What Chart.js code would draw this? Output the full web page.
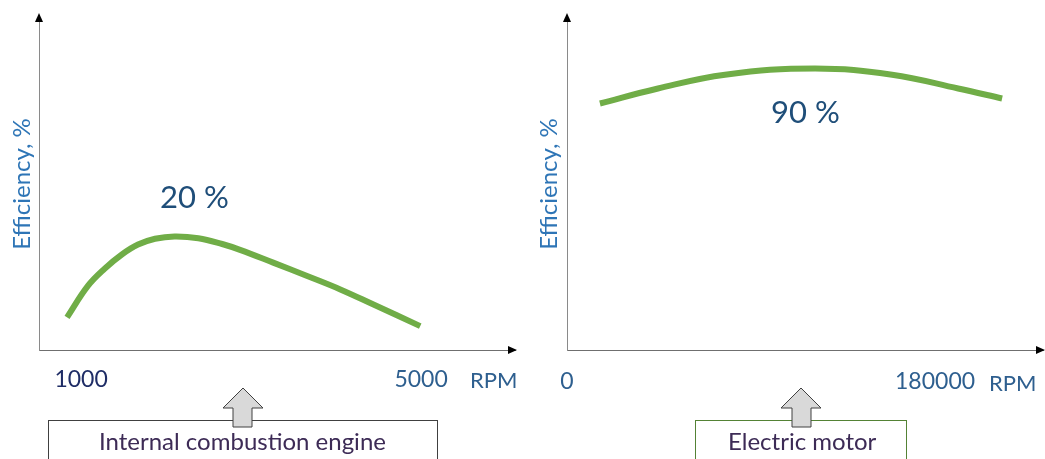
<!DOCTYPE html>
<html>
<head>
<meta charset="utf-8">
<script src="https://cdn.jsdelivr.net/npm/chart.js@4"></script>
<style>
  body { margin: 0; background: #fff; width: 1045px; height: 459px; overflow: hidden; position: relative; font-family: Lato, "Open Sans", sans-serif; }
  .wrap { position: absolute; top: 0; height: 459px; }
  .lbl { position: absolute; white-space: nowrap; line-height: 1; }
  svg { position: absolute; left: 0; top: 0; }
</style>
</head>
<body>
<div class="wrap" style="left:0;width:525px"><canvas id="ice"></canvas></div>
<div class="wrap" style="left:525px;width:520px"><canvas id="ev"></canvas></div>

<svg width="1045" height="459">
  <rect x="48.5" y="420.5" width="389" height="60" fill="#fff" stroke="#404040" stroke-width="1"/>
  <rect x="695.5" y="420.5" width="211" height="60" fill="#fff" stroke="#548235" stroke-width="1"/>
  <polygon points="243,388 263,408 252,408 252,427 233,427 233,408 223,408" fill="#d9d9d9" stroke="#404040" stroke-width="1"/>
  <polygon points="801,388 821,408 811,408 811,427 792,427 792,408 781,408" fill="#d9d9d9" stroke="#404040" stroke-width="1"/>
</svg>

<div class="lbl" style="left:160px;top:181px;font-size:31px;color:#1f4e79">20 %</div>
<div class="lbl" style="left:771px;top:96px;font-size:31px;color:#1f4e79">90 %</div>
<div class="lbl" style="left:470px;top:369px;font-size:22px;color:#2e5f8f">RPM</div>
<div class="lbl" style="left:989px;top:372px;font-size:22px;color:#2e5f8f">RPM</div>
<div class="lbl" style="left:99px;top:429px;font-size:24px;color:#3d2b56">Internal combustion engine</div>
<div class="lbl" style="left:728px;top:429px;font-size:24px;color:#3d2b56">Electric motor</div>

<script>
// internal combustion engine
const iceRpm = [835, 1080, 1280, 1480, 1670, 1870, 2100, 2380, 2660, 2870, 3260, 3660, 4050, 4440, 4990];
const iceEff = [5.6, 11.0, 14.0, 16.4, 18.1, 19.1, 19.5, 19.2, 18.2, 17.2, 15.0, 12.7, 10.4, 7.8, 4.1];
const iceTicks = [1000, 5000];

// electric motor
const evRpm = [16100, 44500, 77300, 121300, 159000, 191300, 212800];
const evEff = [78.7, 83.5, 87.9, 89.9, 87.9, 83.5, 80.3];
const evTicks = [0, 180000];

const axisArrows = {
  id: 'axisArrows',
  afterDraw(chart) {
    const { ctx, chartArea: a } = chart;
    ctx.save();
    ctx.fillStyle = '#000';
    ctx.beginPath();
    ctx.moveTo(a.left, a.top - 5);
    ctx.lineTo(a.left - 4, a.top + 4);
    ctx.lineTo(a.left + 4, a.top + 4);
    ctx.fill();
    ctx.beginPath();
    ctx.moveTo(a.right + 2, a.bottom);
    ctx.lineTo(a.right - 7, a.bottom - 4);
    ctx.lineTo(a.right - 7, a.bottom + 4);
    ctx.fill();
    ctx.restore();
  }
};

function makeChart(id, xs, ys, ticks, xMin, xMax, yMax, yAxisW, titlePad, padRight, tickPad, tickColor) {
  return new Chart(document.getElementById(id), {
    type: 'line',
    data: {
      datasets: [{
        data: xs.map((x, i) => ({ x: x, y: ys[i] })),
        borderColor: '#70ad47',
        borderWidth: 6,
        pointRadius: 0,
        tension: 0.4,
        borderCapStyle: 'butt'
      }]
    },
    options: {
      responsive: true,
      maintainAspectRatio: false,
      animation: false,
      layout: { padding: { top: 18, right: padRight, left: 0, bottom: 0 } },
      plugins: { legend: { display: false }, tooltip: { enabled: false } },
      scales: {
        x: {
          type: 'linear', min: xMin, max: xMax,
          grid: { display: false, drawTicks: false },
          border: { display: true, color: '#6f6f6f', width: 1 },
          afterBuildTicks: s => { s.ticks = ticks.map(v => ({ value: v })); },
          afterFit: s => { s.height = 109; },
          ticks: {
            padding: tickPad, maxRotation: 0, autoSkip: false,
            font: { family: 'Lato', size: 23 },
            color: tickColor,
            callback: v => String(v)
          }
        },
        y: {
          min: 0, max: yMax,
          grid: { display: false, drawTicks: false },
          border: { display: true, color: '#8a8a8a', width: 1 },
          ticks: { display: false },
          afterFit: s => { s.width = yAxisW; },
          title: {
            display: true, text: 'Efficiency, %', color: '#2e75b6',
            font: { family: 'Lato', size: 24 }, padding: { top: titlePad, bottom: 0 }
          }
        }
      }
    },
    plugins: [axisArrows]
  });
}

makeChart('ice', iceRpm, iceEff, iceTicks, 505, 6105, 57, 39, 8, 10, 16,
  c => c.tick && c.tick.value === 1000 ? '#1f2d66' : '#2e5f8f');
makeChart('ev', evRpm, evEff, evTicks, 0, 232800, 106, 42, 10, 2, 18, '#2e5f8f');
</script>
</body>
</html>
